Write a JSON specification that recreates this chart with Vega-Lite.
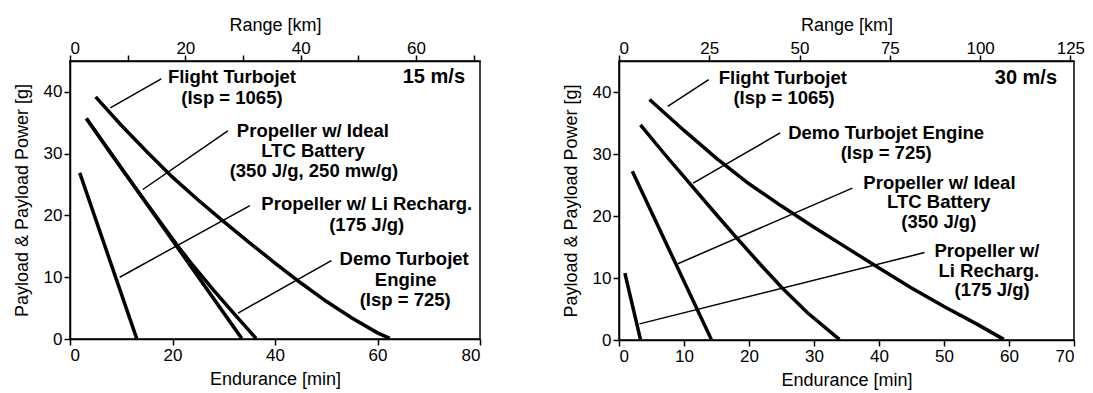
{
 "$schema": "https://vega.github.io/schema/vega-lite/v6.json",
 "padding": {"left": 12, "top": 15, "right": 0, "bottom": 0},
 "config": {
  "font": "Liberation Sans",
  "view": {"stroke": "black", "strokeWidth": 1.5},
  "axis": {"domainColor": "black", "domainWidth": 1.5, "tickColor": "black", "tickWidth": 1.5, "tickSize": 6, "labelColor": "black", "titleColor": "black", "labelFontSize": 17, "titleFontSize": 18, "titleFontWeight": "normal", "grid": false, "labelFont": "Liberation Sans", "titleFont": "Liberation Sans"},
  "axisLeft": {"titlePadding": 12},
  "axisTop": {"labelPadding": -2, "titlePadding": 5},
  "axisBottom": {"titlePadding": 7},
  "concat": {"spacing": 79}
 },
 "datasets": {
  "curves15": [
   {"s": "Flight Turbojet", "t": 5.0, "p": 39.2}, {"s": "Flight Turbojet", "t": 10, "p": 34.6}, {"s": "Flight Turbojet", "t": 15, "p": 30.3}, {"s": "Flight Turbojet", "t": 20, "p": 26.2}, {"s": "Flight Turbojet", "t": 25, "p": 22.5}, {"s": "Flight Turbojet", "t": 30, "p": 19.0}, {"s": "Flight Turbojet", "t": 35, "p": 15.6}, {"s": "Flight Turbojet", "t": 40, "p": 12.3}, {"s": "Flight Turbojet", "t": 45, "p": 9.1}, {"s": "Flight Turbojet", "t": 50, "p": 6.1}, {"s": "Flight Turbojet", "t": 55, "p": 3.4}, {"s": "Flight Turbojet", "t": 60, "p": 1.0}, {"s": "Flight Turbojet", "t": 62.4, "p": 0.1},
   {"s": "Demo Turbojet", "t": 3.2, "p": 35.7}, {"s": "Demo Turbojet", "t": 8, "p": 30.0}, {"s": "Demo Turbojet", "t": 13, "p": 24.2}, {"s": "Demo Turbojet", "t": 18, "p": 18.5}, {"s": "Demo Turbojet", "t": 21, "p": 15.1}, {"s": "Demo Turbojet", "t": 24, "p": 11.9}, {"s": "Demo Turbojet", "t": 28, "p": 7.9}, {"s": "Demo Turbojet", "t": 32, "p": 4.1}, {"s": "Demo Turbojet", "t": 36.3, "p": 0.1},
   {"s": "Propeller LTC", "t": 3.2, "p": 35.7}, {"s": "Propeller LTC", "t": 33.5, "p": 0.1},
   {"s": "Propeller Li", "t": 1.9, "p": 26.9}, {"s": "Propeller Li", "t": 13.0, "p": 0.1}
  ],
  "curves30": [
   {"s": "Flight Turbojet", "t": 4.7, "p": 38.8}, {"s": "Flight Turbojet", "t": 10, "p": 33.8}, {"s": "Flight Turbojet", "t": 15, "p": 29.3}, {"s": "Flight Turbojet", "t": 20, "p": 25.2}, {"s": "Flight Turbojet", "t": 25, "p": 21.6}, {"s": "Flight Turbojet", "t": 30, "p": 18.2}, {"s": "Flight Turbojet", "t": 35, "p": 14.9}, {"s": "Flight Turbojet", "t": 40, "p": 11.6}, {"s": "Flight Turbojet", "t": 45, "p": 8.4}, {"s": "Flight Turbojet", "t": 50, "p": 5.4}, {"s": "Flight Turbojet", "t": 55, "p": 2.6}, {"s": "Flight Turbojet", "t": 59.2, "p": 0.1},
   {"s": "Demo Turbojet", "t": 3.3, "p": 34.7}, {"s": "Demo Turbojet", "t": 7, "p": 30.0}, {"s": "Demo Turbojet", "t": 11, "p": 25.1}, {"s": "Demo Turbojet", "t": 15, "p": 20.2}, {"s": "Demo Turbojet", "t": 18, "p": 16.6}, {"s": "Demo Turbojet", "t": 22, "p": 11.9}, {"s": "Demo Turbojet", "t": 25, "p": 8.5}, {"s": "Demo Turbojet", "t": 29, "p": 4.4}, {"s": "Demo Turbojet", "t": 33.9, "p": 0.1},
   {"s": "Propeller LTC", "t": 2.05, "p": 27.2}, {"s": "Propeller LTC", "t": 14.2, "p": 0.1},
   {"s": "Propeller Li", "t": 0.9, "p": 10.8}, {"s": "Propeller Li", "t": 3.3, "p": 0.1}
  ],
  "leaders15": [
   {"x": 7.86, "y": 37.4, "x2": 17.8, "y2": 42.1},
   {"x": 14.2, "y": 24.2, "x2": 30.8, "y2": 33.7},
   {"x": 9.7, "y": 10.0, "x2": 35.1, "y2": 21.6},
   {"x": 32.8, "y": 4.2, "x2": 51.0, "y2": 12.7}
  ],
  "leaders30": [
   {"x": 7.5, "y": 37.7, "x2": 13.8, "y2": 42.0},
   {"x": 11.4, "y": 25.3, "x2": 24.8, "y2": 33.4},
   {"x": 9.05, "y": 12.3, "x2": 35.9, "y2": 24.5},
   {"x": 3.16, "y": 2.6, "x2": 47.0, "y2": 14.1}
  ],
  "labels15": [
   {"text": "Flight Turbojet", "x": 31.6, "y": 42.4},
   {"text": "(Isp = 1065)", "x": 31.6, "y": 39.0},
   {"text": "Propeller w/ Ideal", "x": 47.4, "y": 33.7},
   {"text": "LTC Battery", "x": 47.4, "y": 30.4},
   {"text": "(350 J/g, 250 mw/g)", "x": 47.6, "y": 27.2},
   {"text": "Propeller w/ Li Recharg.", "x": 57.9, "y": 21.8},
   {"text": "(175 J/g)", "x": 57.9, "y": 18.5},
   {"text": "Demo Turbojet", "x": 65.2, "y": 12.9},
   {"text": "Engine", "x": 65.5, "y": 9.6},
   {"text": "(Isp = 725)", "x": 65.4, "y": 6.3}
  ],
  "labels30": [
   {"text": "Flight Turbojet", "x": 25.2, "y": 42.3},
   {"text": "(Isp = 1065)", "x": 25.4, "y": 39.0},
   {"text": "Demo Turbojet Engine", "x": 41.1, "y": 33.4},
   {"text": "(Isp = 725)", "x": 41.1, "y": 30.2},
   {"text": "Propeller w/ Ideal", "x": 49.3, "y": 25.4},
   {"text": "LTC Battery", "x": 49.2, "y": 22.3},
   {"text": "(350 J/g)", "x": 49.2, "y": 19.1},
   {"text": "Propeller w/", "x": 56.6, "y": 14.4},
   {"text": "Li Recharg.", "x": 56.9, "y": 11.2},
   {"text": "(175 J/g)", "x": 57.4, "y": 8.0}
  ],
  "speed15": [{"text": "15 m/s", "x": 71.0, "y": 42.4}],
  "speed30": [{"text": "30 m/s", "x": 62.6, "y": 42.3}]
 },
 "hconcat": [
  {
   "width": 410, "height": 278,
   "layer": [
    {
     "layer": [
      {"data": {"name": "curves15"}, "mark": {"type": "line", "color": "black", "strokeWidth": 3.5}, "encoding": {"x": {"field": "t", "type": "quantitative", "scale": {"domain": [0, 80], "nice": false}, "axis": {"title": "Endurance [min]", "values": [0, 20, 40, 60, 80]}}, "y": {"field": "p", "type": "quantitative", "scale": {"domain": [0, 45], "nice": false}, "axis": {"title": "Payload & Payload Power [g]", "values": [0, 10, 20, 30, 40]}}, "detail": {"field": "s"}}},
      {"data": {"name": "leaders15"}, "mark": {"type": "rule", "color": "black", "strokeWidth": 1.5}, "encoding": {"x": {"field": "x", "type": "quantitative"}, "y": {"field": "y", "type": "quantitative"}, "x2": {"field": "x2"}, "y2": {"field": "y2"}}},
      {"data": {"name": "labels15"}, "mark": {"type": "text", "fontWeight": "bold", "fontSize": 18.5, "align": "center", "baseline": "middle", "color": "black"}, "encoding": {"x": {"field": "x", "type": "quantitative"}, "y": {"field": "y", "type": "quantitative"}, "text": {"field": "text"}}},
      {"data": {"name": "speed15"}, "mark": {"type": "text", "fontWeight": "bold", "fontSize": 20, "align": "center", "baseline": "middle", "color": "black"}, "encoding": {"x": {"field": "x", "type": "quantitative"}, "y": {"field": "y", "type": "quantitative"}, "text": {"field": "text"}}}
     ]
    },
    {"data": {"values": [{"km": 0}]}, "mark": {"type": "point", "opacity": 0}, "encoding": {"x": {"field": "km", "type": "quantitative", "scale": {"domain": [0, 71.1], "nice": false}, "axis": {"orient": "top", "title": "Range [km]", "values": [0, 10, 20, 30, 40, 50, 60, 70], "labelExpr": "datum.value % 20 === 0 ? datum.label : ''"}}}}
   ],
   "resolve": {"scale": {"x": "independent"}}
  },
  {
   "width": 455, "height": 279,
   "layer": [
    {
     "layer": [
      {"data": {"name": "curves30"}, "mark": {"type": "line", "color": "black", "strokeWidth": 3.5}, "encoding": {"x": {"field": "t", "type": "quantitative", "scale": {"domain": [0, 70], "nice": false}, "axis": {"title": "Endurance [min]", "values": [0, 10, 20, 30, 40, 50, 60, 70]}}, "y": {"field": "p", "type": "quantitative", "scale": {"domain": [0, 45], "nice": false}, "axis": {"title": "Payload & Payload Power [g]", "values": [0, 10, 20, 30, 40]}}, "detail": {"field": "s"}}},
      {"data": {"name": "leaders30"}, "mark": {"type": "rule", "color": "black", "strokeWidth": 1.5}, "encoding": {"x": {"field": "x", "type": "quantitative"}, "y": {"field": "y", "type": "quantitative"}, "x2": {"field": "x2"}, "y2": {"field": "y2"}}},
      {"data": {"name": "labels30"}, "mark": {"type": "text", "fontWeight": "bold", "fontSize": 18.5, "align": "center", "baseline": "middle", "color": "black"}, "encoding": {"x": {"field": "x", "type": "quantitative"}, "y": {"field": "y", "type": "quantitative"}, "text": {"field": "text"}}},
      {"data": {"name": "speed30"}, "mark": {"type": "text", "fontWeight": "bold", "fontSize": 20, "align": "center", "baseline": "middle", "color": "black"}, "encoding": {"x": {"field": "x", "type": "quantitative"}, "y": {"field": "y", "type": "quantitative"}, "text": {"field": "text"}}}
     ]
    },
    {"data": {"values": [{"km": 0}]}, "mark": {"type": "point", "opacity": 0}, "encoding": {"x": {"field": "km", "type": "quantitative", "scale": {"domain": [0, 126], "nice": false}, "axis": {"orient": "top", "title": "Range [km]", "values": [0, 25, 50, 75, 100, 125]}}}}
   ],
   "resolve": {"scale": {"x": "independent"}}
  }
 ]
}
